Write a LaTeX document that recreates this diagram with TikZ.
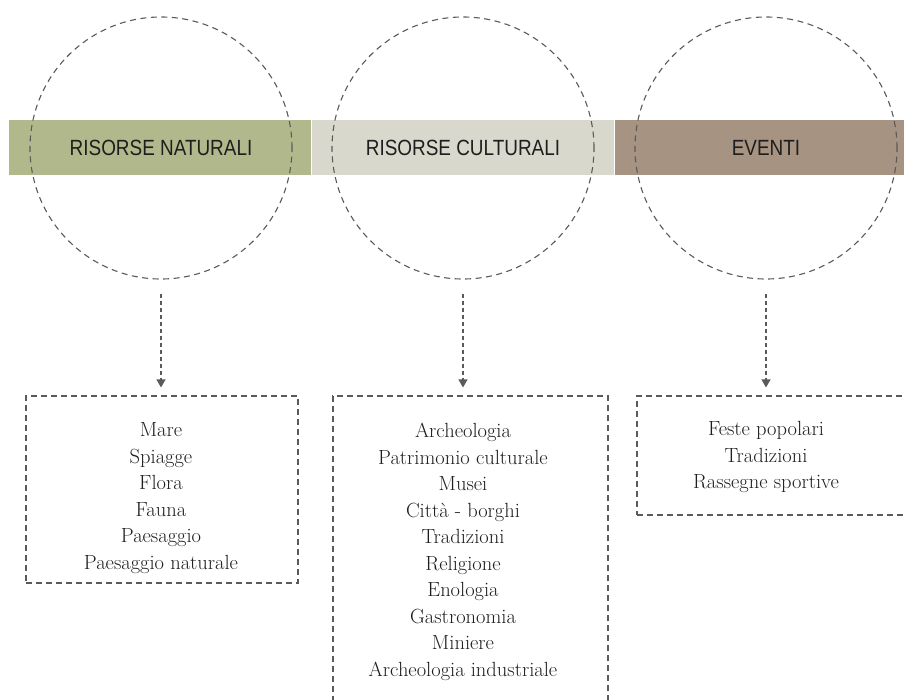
\documentclass[tikz,border=0pt]{standalone}
\usepackage{fontspec}
\newfontfamily\headfont[FakeStretch=0.86]{Liberation Sans}
\usetikzlibrary{arrows.meta}
\definecolor{natgreen}{HTML}{B1B98C}
\definecolor{culgrey}{HTML}{D8D9CC}
\definecolor{evbrown}{HTML}{A69381}
\definecolor{dashgrey}{HTML}{5A5A5A}
\definecolor{inkgrey}{HTML}{1E1E1E}

\begin{document}
\begin{tikzpicture}[x=1pt, y=-1pt,
    band/.style={rectangle, draw=none, inner sep=0pt, minimum height=55pt},
    ring/.style={circle, draw=dashgrey, line width=1.1pt, dash pattern=on 6pt off 4.5pt,
                 minimum size=262pt, inner sep=0pt, text=inkgrey,
                 font=\headfont\fontsize{22}{22}\selectfont},
    listbox/.style={rectangle, draw=dashgrey, line width=1.1pt, dash pattern=on 6pt off 4pt, inner sep=0pt},
    listtext/.style={align=center, inner sep=0pt, text=inkgrey, font=\fontsize{20.5}{26.5}\selectfont},
    flow/.style={draw=dashgrey, line width=1.1pt, dash pattern=on 4pt off 3pt,
                 -{Triangle[width=9pt,length=8pt]}, shorten <=14pt, shorten >=8pt}
]
\useasboundingbox (0,0) rectangle (904,700);
\clip (0,0) rectangle (904,700);
% colour bands
\node[band, fill=natgreen, minimum width=302pt] (band1) at (160,147.5) {};
\node[band, fill=culgrey, minimum width=302pt] (band2) at (463,147.5) {};
\node[band, fill=evbrown, minimum width=300pt] (band3) at (765,147.5) {};
% dashed circles with headings
\node[ring] (n1) at (161,148) {RISORSE NATURALI};
\node[ring] (n2) at (463,148) {RISORSE CULTURALI};
\node[ring] (n3) at (766,148) {EVENTI};
% dashed boxes
\node[listbox, minimum width=272pt, minimum height=187pt] (b1) at (162,489.5) {};
\node[listbox, minimum width=275pt, minimum height=310pt] (b2) at (470.5,551) {};
\node[listbox, minimum width=278pt, minimum height=119pt] (b3) at (776,455.5) {};
% lists
\node[listtext] (l1) at (161,498) {Mare\\Spiagge\\Flora\\Fauna\\Paesaggio\\Paesaggio naturale};
\node[listtext] (l2) at (463,552) {Archeologia\\Patrimonio culturale\\Musei\\Città - borghi\\Tradizioni\\Religione\\Enologia\\Gastronomia\\Miniere\\Archeologia industriale};
\node[listtext] (l3) at (766,457) {Feste popolari\\Tradizioni\\Rassegne sportive};
% arrows
\draw[flow] (n1.south) -- (n1.south |- b1.north);
\draw[flow] (n2.south) -- (n2.south |- b2.north);
\draw[flow] (n3.south) -- (n3.south |- b3.north);
\end{tikzpicture}
\end{document}
